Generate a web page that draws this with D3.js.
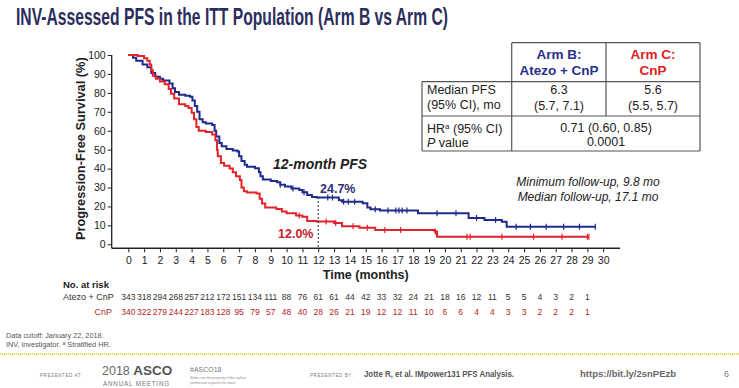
<!DOCTYPE html>
<html>
<head>
<meta charset="utf-8">
<script src="https://cdnjs.cloudflare.com/ajax/libs/d3/7.8.5/d3.min.js"></script>
<style>
  body { margin: 0; background: #fff; }
  text { font-family: "Liberation Sans", Arial, sans-serif; }
  .narrow { font-family: "Liberation Sans Narrow", "Arial Narrow", "Liberation Sans", sans-serif; }
</style>
</head>
<body>
<div id="chart"></div>
<script>
// ---- data ----
const xTicks = d3.range(0, 31);
const yTicks = [0, 10, 20, 30, 40, 50, 60, 70, 80, 90, 100];

// Arm B: Atezo + CnP (step times in months, PFS % after each step)
const armBTimes = [0, 0.3, 0.5, 0.9, 1.2, 1.45, 1.7, 2.0, 2.2, 2.6, 2.8, 2.95, 3.2, 3.6, 3.9, 4.05, 4.2, 4.35, 4.5, 4.7, 4.9, 5.3, 5.45, 5.55, 5.75, 5.9, 6.2, 6.6, 6.9, 7.0, 7.15, 7.35, 7.5, 8.0, 8.25, 8.35, 8.5, 9.0, 9.4, 9.6, 9.9, 10.3, 10.8, 11.0, 11.3, 11.6, 11.9, 13.3, 13.5, 14.8, 15.1, 15.3, 15.9, 18.3, 21.5, 22.5, 23.6, 23.9, 29.5];
const armBPFS   = [100, 98.5, 97, 95, 93.5, 90.5, 88.5, 87.5, 86.5, 85, 82.5, 80.5, 79, 78.5, 78, 76, 73, 70, 66, 64.5, 63.8, 63, 60, 57, 53.5, 51.8, 50.3, 49.6, 49, 46.5, 44, 42, 41, 40.2, 38, 36, 34.2, 33.5, 32.8, 31.5, 30.5, 29.5, 28.7, 27.5, 26, 25, 24.7, 23.3, 22.5, 21.7, 19.5, 18.5, 17.8, 16.4, 13.9, 12.8, 11.9, 9.3, 9.3];
const armBCensor = [9.6, 10.4, 11.1, 12.6, 12.9, 13.6, 13.9, 14.3, 15.6, 16.4, 16.9, 17.1, 17.3, 17.6, 19.5, 20.7, 22.0, 23.2, 24.5, 25.4, 26.4, 27.5, 28.5, 29.5];

// Arm C: CnP
const armCTimes = [0, 0.6, 1.0, 1.2, 1.35, 1.45, 1.55, 1.75, 2.0, 2.3, 2.55, 2.7, 2.9, 3.2, 3.6, 3.8, 4.0, 4.15, 4.3, 4.45, 4.9, 5.3, 5.5, 5.6, 5.65, 5.85, 6.05, 6.4, 6.6, 6.8, 7.05, 7.15, 7.3, 7.5, 8.1, 8.3, 8.45, 8.65, 9.35, 9.7, 10.0, 10.6, 11.0, 11.3, 11.9, 13.0, 13.5, 14.6, 15.6, 19.35, 19.5, 29.1];
const armCPFS   = [100, 99.5, 98.3, 97, 95, 92, 89, 87.5, 86, 84.5, 82, 79.5, 77, 74, 73, 72, 69.5, 66, 62, 60, 59.3, 58, 55, 50, 46.5, 43, 41.5, 40, 38, 36, 34, 30, 28, 27.3, 26.8, 24, 21.5, 19.5, 18.6, 17.3, 16.4, 15.2, 14.6, 12.3, 12.0, 11.2, 9.5, 8.8, 7.6, 6.7, 4.0, 4.0];
const armCCensor = [10.8, 12.5, 13.1, 14.2, 15.1, 16.2, 17.2, 19.4, 21.4, 21.6, 23.6, 25.6, 27.4, 29.0, 29.1];

// number at risk, months 0..29
const riskMonths = d3.range(0, 30);
const riskArmB = [343, 318, 294, 268, 257, 212, 172, 151, 134, 111, 88, 76, 61, 61, 44, 42, 33, 32, 24, 21, 18, 16, 12, 11, 5, 5, 4, 3, 2, 1];
const riskArmC = [340, 322, 279, 244, 227, 183, 128, 95, 79, 57, 48, 40, 28, 26, 21, 19, 12, 12, 11, 10, 6, 6, 4, 4, 3, 3, 2, 2, 2, 1];

const blue = "#1f2a8c", red = "#e2232a";

const svg = d3.select("#chart").append("svg")
    .attr("width", 739)
    .attr("height", 388);

// title
svg.append("text").attr("class", "narrow")
    .attr("x", 16).attr("y", 25)
    .attr("font-size", 23).attr("font-weight", "bold")
    .attr("fill", "#2b2e5c")
    .attr("textLength", 432).attr("lengthAdjust", "spacingAndGlyphs")
    .text("INV-Assessed PFS in the ITT Population (Arm B vs Arm C)");

// scales
const x = d3.scaleLinear().domain([0, 30]).range([128.3, 603.2]);
const y = d3.scaleLinear().domain([0, 100]).range([244.3, 55]);
const axisY = 248.3, axisX = 111.7;

// axes
const gy = svg.append("g").attr("transform", `translate(${axisX},0)`)
    .call(d3.axisLeft(y).tickValues(yTicks).tickSize(4).tickPadding(2).tickSizeOuter(0));
gy.select(".domain").remove();
gy.selectAll("text").attr("class", "narrow").attr("font-size", 10.5).attr("fill", "#222");
gy.selectAll("line").attr("stroke", "#222");
svg.append("line").attr("x1", axisX).attr("x2", axisX).attr("y1", y(100)).attr("y2", axisY)
    .attr("stroke", "#222").attr("stroke-width", 1.3);

const gx = svg.append("g").attr("transform", `translate(0,${axisY})`)
    .call(d3.axisBottom(x).tickValues(xTicks).tickSize(4).tickPadding(4).tickSizeOuter(0));
gx.select(".domain").remove();
gx.selectAll("text").attr("class", "narrow").attr("font-size", 10.5).attr("fill", "#222");
gx.selectAll("line").attr("stroke", "#222");
svg.append("line").attr("x1", axisX).attr("x2", 620).attr("y1", axisY).attr("y2", axisY)
    .attr("stroke", "#222").attr("stroke-width", 1.5);

svg.append("text")
    .attr("transform", `translate(85,${(y(100) + axisY) / 2 - 3}) rotate(-90)`)
    .attr("text-anchor", "middle").attr("font-size", 12.8).attr("font-weight", "bold").attr("fill", "#222")
    .text("Progression-Free Survival (%)");
svg.append("text")
    .attr("x", x(15)).attr("y", 279).attr("text-anchor", "middle")
    .attr("font-size", 12.5).attr("font-weight", "bold").attr("fill", "#222")
    .text("Time (months)");

// curves
const line = d3.line().x(d => x(d[0])).y(d => y(d[1])).curve(d3.curveStepAfter);
function drawArm(times, pfs, censor, color) {
    const pts = times.map((t, i) => [t, pfs[i]]);
    svg.append("path").datum(pts)
        .attr("d", line).attr("fill", "none")
        .attr("stroke", color).attr("stroke-width", 2);
    const at = t => pfs[d3.bisectRight(times, t) - 1];
    svg.selectAll(null).data(censor).enter().append("line")
        .attr("x1", d => x(d)).attr("x2", d => x(d))
        .attr("y1", d => y(at(d)) - 3).attr("y2", d => y(at(d)) + 3)
        .attr("stroke", color).attr("stroke-width", 1.2);
}
drawArm(armBTimes, armBPFS, armBCensor, blue);
drawArm(armCTimes, armCPFS, armCCensor, red);

// 12-month marker
svg.append("line").attr("x1", x(12)).attr("x2", x(12)).attr("y1", 197).attr("y2", axisY)
    .attr("stroke", "#333").attr("stroke-width", 1).attr("stroke-dasharray", "2,2");
svg.append("text").attr("x", 273).attr("y", 169)
    .attr("font-size", 14).attr("font-weight", "bold").attr("font-style", "italic").attr("fill", "#222")
    .text("12-month PFS");
svg.append("text").attr("x", 320).attr("y", 193)
    .attr("font-size", 12.5).attr("font-weight", "bold").attr("fill", "#2b3175")
    .text("24.7%");
svg.append("text").attr("x", 278).attr("y", 238)
    .attr("font-size", 12.5).attr("font-weight", "bold").attr("fill", "#c8202a")
    .text("12.0%");

svg.append("text").attr("x", 588).attr("y", 186).attr("text-anchor", "middle")
    .attr("font-size", 12).attr("font-style", "italic").attr("fill", "#222")
    .text("Minimum follow-up, 9.8 mo");
svg.append("text").attr("x", 588).attr("y", 201).attr("text-anchor", "middle")
    .attr("font-size", 12).attr("font-style", "italic").attr("fill", "#222")
    .text("Median follow-up, 17.1 mo");

// summary table
const tbl = svg.append("g").attr("stroke", "#555").attr("stroke-width", 1.2);
[[511.7, 42.7, 700, 42.7], [422, 81.7, 700, 81.7], [422, 116, 700, 116], [422, 151, 700, 151],
 [511.7, 42.7, 511.7, 151], [606, 42.7, 606, 116], [700, 42.7, 700, 151], [422, 81.7, 422, 151]]
    .forEach(l => tbl.append("line").attr("x1", l[0]).attr("y1", l[1]).attr("x2", l[2]).attr("y2", l[3]));

function cell(tx, ty, s, opts) {
    const t = svg.append("text").attr("x", tx).attr("y", ty)
        .attr("font-size", opts.size || 12.5)
        .attr("text-anchor", opts.anchor || "middle")
        .attr("font-weight", opts.bold ? "bold" : "normal")
        .attr("fill", opts.color || "#222");
    if (s != null) t.text(s);
    return t;
}
cell(559, 59, "Arm B:", {bold: true, color: "#2a2f8f", size: 13.5});
cell(559, 75, "Atezo + CnP", {bold: true, color: "#2a2f8f", size: 13.5});
cell(653, 59, "Arm C:", {bold: true, color: "#e0201e", size: 13.5});
cell(653, 75, "CnP", {bold: true, color: "#e0201e", size: 13.5});
cell(427, 94, "Median PFS", {anchor: "start"});
cell(427, 109, "(95% CI), mo", {anchor: "start"});
cell(559, 94, "6.3", {});
cell(559, 110, "(5.7, 7.1)", {});
cell(653, 94, "5.6", {});
cell(653, 110, "(5.5, 5.7)", {});
const hr = cell(427, 133, null, {anchor: "start"});
hr.append("tspan").text("HR");
hr.append("tspan").attr("font-size", 8).attr("dy", -4).text("a");
hr.append("tspan").attr("dy", 4).text(" (95% CI)");
const pv = cell(427, 147, null, {anchor: "start"});
pv.append("tspan").attr("font-style", "italic").text("P");
pv.append("tspan").text(" value");
cell(606, 132, "0.71 (0.60, 0.85)", {});
cell(606, 146, "0.0001", {});

// number at risk
svg.append("text").attr("x", 63).attr("y", 288)
    .attr("font-size", 9.5).attr("font-weight", "bold").attr("fill", "#222").text("No. at risk");
svg.append("text").attr("x", 63).attr("y", 300)
    .attr("font-size", 9).attr("fill", "#333").text("Atezo + CnP");
svg.append("text").attr("x", 112).attr("y", 315).attr("text-anchor", "end")
    .attr("font-size", 9).attr("fill", "#b3262a").text("CnP");
svg.selectAll(null).data(riskArmB).enter().append("text")
    .attr("x", (d, i) => x(riskMonths[i])).attr("y", 300).attr("text-anchor", "middle")
    .attr("font-size", 8.5).attr("fill", "#333").text(d => d);
svg.selectAll(null).data(riskArmC).enter().append("text")
    .attr("x", (d, i) => x(riskMonths[i])).attr("y", 315).attr("text-anchor", "middle")
    .attr("font-size", 8.5).attr("fill", "#b3262a").text(d => d);

// footnotes and slide footer
svg.append("text").attr("x", 6).attr("y", 338).attr("font-size", 7.3).attr("fill", "#555")
    .text("Data cutoff: January 22, 2018.");
const fn = svg.append("text").attr("x", 6).attr("y", 347).attr("font-size", 7.3).attr("fill", "#555");
fn.append("tspan").text("INV, investigator. ");
fn.append("tspan").attr("font-size", 5).attr("dy", -2.5).text("a");
fn.append("tspan").attr("dy", 2.5).text(" Stratified HR.");
svg.append("line").attr("x1", 0).attr("x2", 739).attr("y1", 354).attr("y2", 354)
    .attr("stroke", "#e5c21a").attr("stroke-width", 1.5).attr("stroke-dasharray", "1,1");

svg.append("text").attr("x", 40).attr("y", 377).attr("font-size", 4.5).attr("letter-spacing", 0.6)
    .attr("fill", "#777").text("PRESENTED AT:");
const asco = svg.append("text").attr("class", "narrow").attr("x", 102).attr("y", 375).attr("fill", "#666");
asco.append("tspan").attr("font-size", 12.5).text("2018 ");
asco.append("tspan").attr("font-size", 13.5).attr("font-weight", "bold").attr("fill", "#555").text("ASCO");
svg.append("text").attr("x", 103).attr("y", 386).attr("font-size", 6.3).attr("letter-spacing", 0.8)
    .attr("fill", "#777").text("ANNUAL MEETING");
svg.append("text").attr("x", 190).attr("y", 372).attr("font-size", 7).attr("fill", "#777").text("#ASCO18");
svg.append("text").attr("x", 190).attr("y", 379).attr("font-size", 3.5).attr("font-style", "italic")
    .attr("fill", "#888").text("Slides are the property of the author,");
svg.append("text").attr("x", 190).attr("y", 383.5).attr("font-size", 3.5).attr("font-style", "italic")
    .attr("fill", "#888").text("permission required for reuse.");
svg.append("text").attr("x", 310).attr("y", 377).attr("font-size", 4.5).attr("letter-spacing", 0.6)
    .attr("fill", "#777").text("PRESENTED BY:");
svg.append("text").attr("class", "narrow").attr("x", 364).attr("y", 377)
    .attr("font-size", 9).attr("font-weight", "bold").attr("fill", "#555")
    .attr("textLength", 150).attr("lengthAdjust", "spacingAndGlyphs")
    .text("Jotte R, et al. IMpower131 PFS Analysis.");
svg.append("text").attr("class", "narrow").attr("x", 580).attr("y", 377)
    .attr("font-size", 9.5).attr("font-weight", "bold").attr("fill", "#666")
    .text("https://bit.ly/2snPEzb");
svg.append("text").attr("x", 724).attr("y", 377).attr("font-size", 9).attr("fill", "#777").text("6");
</script>
</body>
</html>
